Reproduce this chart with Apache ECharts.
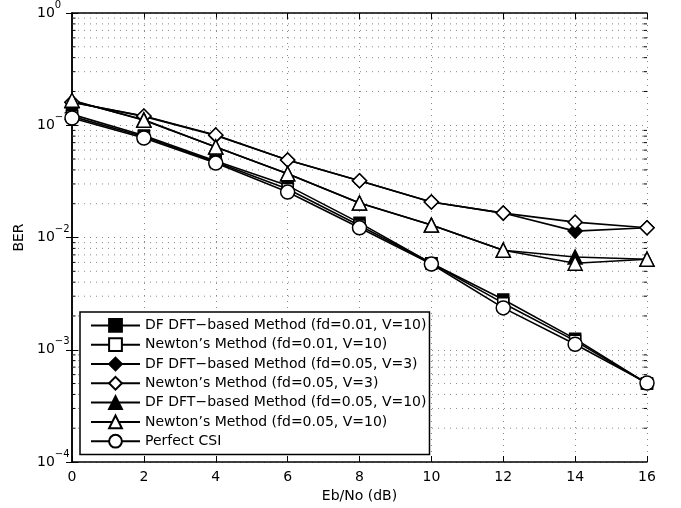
<!DOCTYPE html>
<html>
<head>
<meta charset="utf-8">
<script src="https://cdn.jsdelivr.net/npm/echarts@6/dist/echarts.min.js"></script>
<style>html,body{margin:0;padding:0;background:#fff;}#c{width:681px;height:508px;}</style>
</head>
<body>
<div id="c"></div>
<script>
// ---- data ----
var ebNo = [0, 2, 4, 6, 8, 10, 12, 14, 16];
var xTickLabels = ['0', '2', '4', '6', '8', '10', '12', '14', '16'];
var yTickExponents = { '0': '0', '-1': '\u22121', '-2': '\u22122', '-3': '\u22123', '-4': '\u22124' };
var seriesNames = [
  'DF DFT\u2212based Method (fd=0.01, V=10)',
  'Newton\u2019s Method (fd=0.01, V=10)',
  'DF DFT\u2212based Method (fd=0.05, V=3)',
  'Newton\u2019s Method (fd=0.05, V=3)',
  'DF DFT\u2212based Method (fd=0.05, V=10)',
  'Newton\u2019s Method (fd=0.05, V=10)',
  'Perfect CSI'
];
var dfFd001V10     = [0.125, 0.081, 0.048, 0.029, 0.0135, 0.0059, 0.0028, 0.00125, 0.0005];
var newtonFd001V10 = [0.120, 0.079, 0.047, 0.027, 0.0128, 0.0059, 0.0026, 0.0012, 0.0005];
var dfFd005V3      = [0.160, 0.120, 0.081, 0.049, 0.032, 0.0207, 0.0165, 0.0114, 0.0122];
var newtonFd005V3  = [0.160, 0.121, 0.082, 0.049, 0.032, 0.0207, 0.0165, 0.0137, 0.0122];
var dfFd005V10     = [0.165, 0.112, 0.064, 0.037, 0.0203, 0.0129, 0.0077, 0.0067, 0.0064];
var newtonFd005V10 = [0.167, 0.111, 0.064, 0.037, 0.0203, 0.0129, 0.0077, 0.0059, 0.0064];
var perfectCSI     = [0.116, 0.077, 0.046, 0.0254, 0.0122, 0.0058, 0.00236, 0.00112, 0.000506];
var minorGridValues = [];
[1e-4, 1e-3, 1e-2, 1e-1].forEach(function (d) {
  for (var m = 2; m <= 9; m++) minorGridValues.push(m * d);
});

// ---- chart ----
var FONT = 'DejaVu Sans';
function pairs(arr) { return arr.map(function (v, i) { return [ebNo[i], v]; }); }
var seriesData = [dfFd001V10, newtonFd001V10, dfFd005V3, newtonFd005V3, dfFd005V10, newtonFd005V10, perfectCSI];
var symbols = ['rect', 'rect', 'diamond', 'diamond', 'triangle', 'triangle', 'circle'];
var sizes = [11, 11, 14, 14, 14, 14, 14];
var fills = ['#000', '#fff', '#000', '#fff', '#000', '#fff', '#fff'];

var series = [{
  type: 'custom',
  z: 1,
  silent: true,
  xAxisIndex: 0, yAxisIndex: 0,
  data: minorGridValues.map(function (v) { return [0, v]; }),
  encode: { x: 0, y: 1 },
  renderItem: function (params, api) {
    var p0 = api.coord([0, api.value(1)]);
    var p1 = api.coord([16, api.value(1)]);
    return {
      type: 'group',
      children: [
        { type: 'line', shape: { x1: p0[0], y1: p0[1], x2: p1[0], y2: p1[1] },
          style: { stroke: '#888', lineWidth: 1, lineDash: [1, 5] } },
        { type: 'line', shape: { x1: p0[0], y1: p0[1], x2: p0[0] + 3.5, y2: p0[1] },
          style: { stroke: '#000', lineWidth: 1 } },
        { type: 'line', shape: { x1: p1[0] - 3.5, y1: p1[1], x2: p1[0], y2: p1[1] },
          style: { stroke: '#000', lineWidth: 1 } }
      ]
    };
  }
}];
seriesData.forEach(function (d, i) {
  series.push({
    name: seriesNames[i],
    type: 'line',
    data: pairs(d),
    symbol: symbols[i],
    symbolSize: sizes[i],
    showAllSymbol: true,
    lineStyle: { color: '#000', width: 1.6 },
    itemStyle: { color: fills[i], borderColor: '#000', borderWidth: 1.5 },
    emphasis: { disabled: true },
    animation: false
  });
});

var chart = echarts.init(document.getElementById('c'), null, { renderer: 'canvas' });
chart.setOption({
  animation: false,
  backgroundColor: '#fff',
  textStyle: { fontFamily: FONT },
  grid: { left: 72, top: 13, right: 34, bottom: 46, containLabel: false },
  legend: {
    data: seriesNames,
    orient: 'vertical',
    left: 80, top: 312,
    itemWidth: 49, itemHeight: 16, itemGap: 4.5,
    padding: [6, 3, 6, 10],
    backgroundColor: '#fff',
    borderColor: '#000', borderWidth: 1.5, borderRadius: 0,
    textStyle: { fontFamily: FONT, fontSize: 14, color: '#000' },
    selectedMode: false
  },
  xAxis: [{
    type: 'value', min: 0, max: 16, interval: 2, position: 'bottom',
    name: 'Eb/No (dB)', nameLocation: 'middle', nameGap: 26,
    nameTextStyle: { fontFamily: FONT, fontSize: 14, color: '#000' },
    axisLine: { show: true, lineStyle: { color: '#000', width: 1.5 } },
    axisTick: { show: true, inside: true, length: 6, lineStyle: { color: '#000' } },
    axisLabel: { fontFamily: FONT, fontSize: 14, color: '#000', margin: 8,
      formatter: function (v) { return xTickLabels[ebNo.indexOf(v)]; } },
    splitLine: { show: true, lineStyle: { color: '#888', width: 1, type: [1, 5] } }
  }, {
    type: 'value', min: 0, max: 16, interval: 2, position: 'top',
    axisLine: { show: true, lineStyle: { color: '#000', width: 1.5 } },
    axisTick: { show: true, inside: true, length: 6, lineStyle: { color: '#000' } },
    axisLabel: { show: false },
    splitLine: { show: false }
  }],
  yAxis: [{
    type: 'log', logBase: 10, min: 1e-4, max: 1, position: 'left',
    name: 'BER', nameLocation: 'middle', nameGap: 36,
    nameTextStyle: { fontFamily: FONT, fontSize: 14, color: '#000' },
    axisLine: { show: true, lineStyle: { color: '#000', width: 1.5 } },
    axisTick: { show: true, inside: true, length: 6, lineStyle: { color: '#000' } },
    axisLabel: {
      margin: 35, align: 'left', color: '#000',
      formatter: function (v) {
        var e = String(Math.round(Math.log(v) / Math.LN10));
        return '{b|10}{s|' + yTickExponents[e] + '}';
      },
      rich: {
        b: { fontFamily: FONT, fontSize: 14, lineHeight: 26, verticalAlign: 'middle', color: '#000' },
        s: { fontFamily: FONT, fontSize: 10, lineHeight: 14, verticalAlign: 'top', color: '#000' }
      }
    },
    splitLine: { show: true, lineStyle: { color: '#888', width: 1, type: [1, 5] } }
  }, {
    type: 'log', logBase: 10, min: 1e-4, max: 1, position: 'right',
    axisLine: { show: true, lineStyle: { color: '#000', width: 1.5 } },
    axisTick: { show: true, inside: true, length: 6, lineStyle: { color: '#000' } },
    axisLabel: { show: false },
    splitLine: { show: false }
  }],
  series: series
});
</script>
</body>
</html>
